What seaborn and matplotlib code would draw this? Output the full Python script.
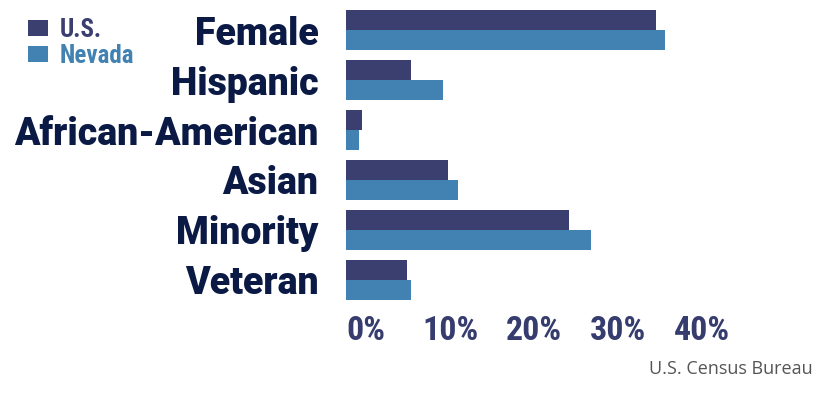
import matplotlib
matplotlib.use("Agg")
import matplotlib.pyplot as plt
import matplotlib.transforms as mtransforms
import pandas as pd
import seaborn as sns

categories = ["Female", "Hispanic", "African-American", "Asian", "Minority", "Veteran"]
us_values = [36.9, 7.7, 1.9, 12.1, 26.5, 7.2]
nevada_values = [38.0, 11.5, 1.5, 13.3, 29.2, 7.7]
series = ["U.S.", "Nevada"]
tick_values = [0, 10, 20, 30, 40]
tick_labels = ["0%", "10%", "20%", "30%", "40%"]
source = "U.S. Census Bureau"

US_COLOR = "#3b3f6f"
NV_COLOR = "#4282b2"
LABEL_COLOR = "#0b1a45"
CONDENSED = ["Roboto Condensed", "Roboto", "DejaVu Sans"]

df = pd.DataFrame({
    "category": categories * 2,
    "group": [series[0]] * len(categories) + [series[1]] * len(categories),
    "value": us_values + nevada_values,
})

sns.set_theme(style="white")
plt.rcParams["font.family"] = ["Roboto", "DejaVu Sans"]

fig = plt.figure(figsize=(8.33, 3.98), dpi=100)
ax = fig.add_axes([0.4154, 0.2337, 0.5042, 0.7537])

sns.barplot(
    data=df, x="value", y="category", hue="group", orient="h",
    order=categories, hue_order=series, palette=[US_COLOR, NV_COLOR],
    width=0.8, saturation=1, linewidth=0, ax=ax,
)

ax.set_xlim(0, 50)
ax.set_ylim(5.5, -0.5)
ax.set_xlabel("")
ax.set_ylabel("")
sns.despine(ax=ax, left=True, bottom=True)

ax.set_xticks(tick_values)
ax.set_xticklabels(tick_labels, fontsize=24.5, fontweight="bold",
                   color="#363c6e", family=CONDENSED)
ax.tick_params(axis="x", length=0, pad=7)
# labels in the original sit a little right of their tick positions
offset = mtransforms.ScaledTranslation(0.2, 0, fig.dpi_scale_trans)
for lbl in ax.get_xticklabels():
    lbl.set_transform(lbl.get_transform() + offset)

ax.set_yticks(range(len(categories)))
ax.set_yticklabels(categories, fontsize=27, fontweight="black", color=LABEL_COLOR)
ax.tick_params(axis="y", length=0, pad=20)

handles, labels = ax.get_legend_handles_labels()
ax.legend(
    handles, labels, loc="upper left", bbox_to_anchor=(0.034, 0.955),
    bbox_transform=fig.transFigure, frameon=False,
    labelcolor=[US_COLOR, NV_COLOR], handlelength=0.8, handleheight=0.65,
    handletextpad=0.45, labelspacing=0.08, borderpad=0, borderaxespad=0,
    prop={"family": CONDENSED, "weight": "bold", "size": 18},
)

fig.text(0.976, 0.05, source, ha="right", va="bottom", fontsize=13,
         color="#555555", family=["Open Sans", "DejaVu Sans"])

fig.savefig("out.png", dpi=100)
